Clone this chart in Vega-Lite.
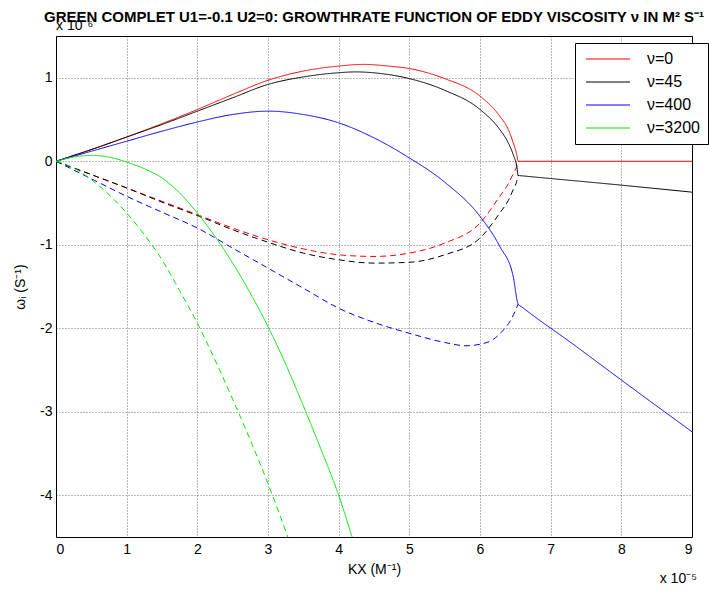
{
  "$schema": "https://vega.github.io/schema/vega-lite/v6.json",
  "width": 636,
  "height": 501,
  "autosize": {"type": "none"},
  "padding": {"left": 56, "top": 36, "right": 17, "bottom": 52},
  "background": "white",
  "title": {
    "text": "GREEN COMPLET U1=-0.1 U2=0: GROWTHRATE FUNCTION OF EDDY VISCOSITY ν IN M² S⁻¹",
    "font": "Liberation Sans",
    "fontSize": 15,
    "fontWeight": "bold",
    "color": "black",
    "anchor": "middle",
    "baseline": "alphabetic",
    "offset": -18
  },
  "config": {
    "view": {"stroke": "black", "strokeWidth": 1},
    "axis": {
      "domain": false,
      "ticks": false,
      "grid": true,
      "gridColor": "#000000",
      "gridOpacity": 0.55,
      "gridDash": [1, 2],
      "gridWidth": 1,
      "labelFont": "Liberation Sans",
      "labelFontSize": 14,
      "labelColor": "black",
      "labelExpr": "'' + datum.value",
      "titleFont": "Liberation Sans",
      "titleFontSize": 14,
      "titleFontWeight": "normal",
      "titleColor": "black"
    },
    "legend": {
      "orient": "none",
      "legendX": 519,
      "legendY": 7,
      "strokeColor": "black",
      "fillColor": "white",
      "padding": 8,
      "labelFont": "Liberation Sans",
      "labelFontSize": 16,
      "labelColor": "black",
      "symbolType": "M-4,0H4",
      "symbolSize": 121,
      "symbolStrokeWidth": 1,
      "symbolOffset": 17,
      "labelOffset": 31,
      "rowPadding": 7
    }
  },
  "layer": [
    {
      "data": {
        "values": [
          {"nu": "ν=0", "branch": "solid", "kx": 0, "w": 0},
          {"nu": "ν=0", "branch": "solid", "kx": 0.25, "w": 0.07},
          {"nu": "ν=0", "branch": "solid", "kx": 0.5, "w": 0.14},
          {"nu": "ν=0", "branch": "solid", "kx": 1, "w": 0.29},
          {"nu": "ν=0", "branch": "solid", "kx": 1.5, "w": 0.45},
          {"nu": "ν=0", "branch": "solid", "kx": 2, "w": 0.62},
          {"nu": "ν=0", "branch": "solid", "kx": 2.5, "w": 0.8},
          {"nu": "ν=0", "branch": "solid", "kx": 3, "w": 0.97},
          {"nu": "ν=0", "branch": "solid", "kx": 3.5, "w": 1.08},
          {"nu": "ν=0", "branch": "solid", "kx": 4, "w": 1.14},
          {"nu": "ν=0", "branch": "solid", "kx": 4.35, "w": 1.16},
          {"nu": "ν=0", "branch": "solid", "kx": 4.7, "w": 1.14},
          {"nu": "ν=0", "branch": "solid", "kx": 5, "w": 1.11},
          {"nu": "ν=0", "branch": "solid", "kx": 5.5, "w": 0.99},
          {"nu": "ν=0", "branch": "solid", "kx": 6, "w": 0.78},
          {"nu": "ν=0", "branch": "solid", "kx": 6.28, "w": 0.54},
          {"nu": "ν=0", "branch": "solid", "kx": 6.4, "w": 0.38},
          {"nu": "ν=0", "branch": "solid", "kx": 6.47, "w": 0.22},
          {"nu": "ν=0", "branch": "solid", "kx": 6.52, "w": 0.08},
          {"nu": "ν=0", "branch": "solid", "kx": 6.54, "w": 0},
          {"nu": "ν=0", "branch": "solid", "kx": 9, "w": 0},
          {"nu": "ν=0", "branch": "dashed", "kx": 0, "w": 0},
          {"nu": "ν=0", "branch": "dashed", "kx": 0.5, "w": -0.16},
          {"nu": "ν=0", "branch": "dashed", "kx": 1, "w": -0.32},
          {"nu": "ν=0", "branch": "dashed", "kx": 1.5, "w": -0.48},
          {"nu": "ν=0", "branch": "dashed", "kx": 2, "w": -0.64},
          {"nu": "ν=0", "branch": "dashed", "kx": 2.5, "w": -0.8},
          {"nu": "ν=0", "branch": "dashed", "kx": 3, "w": -0.94},
          {"nu": "ν=0", "branch": "dashed", "kx": 3.5, "w": -1.05},
          {"nu": "ν=0", "branch": "dashed", "kx": 4, "w": -1.12},
          {"nu": "ν=0", "branch": "dashed", "kx": 4.5, "w": -1.14},
          {"nu": "ν=0", "branch": "dashed", "kx": 5, "w": -1.1},
          {"nu": "ν=0", "branch": "dashed", "kx": 5.5, "w": -0.98},
          {"nu": "ν=0", "branch": "dashed", "kx": 6, "w": -0.74},
          {"nu": "ν=0", "branch": "dashed", "kx": 6.28, "w": -0.42},
          {"nu": "ν=0", "branch": "dashed", "kx": 6.4, "w": -0.27},
          {"nu": "ν=0", "branch": "dashed", "kx": 6.47, "w": -0.15},
          {"nu": "ν=0", "branch": "dashed", "kx": 6.52, "w": -0.06},
          {"nu": "ν=0", "branch": "dashed", "kx": 6.54, "w": 0},
          {"nu": "ν=45", "branch": "solid", "kx": 0, "w": 0},
          {"nu": "ν=45", "branch": "solid", "kx": 0.5, "w": 0.14},
          {"nu": "ν=45", "branch": "solid", "kx": 1, "w": 0.29},
          {"nu": "ν=45", "branch": "solid", "kx": 1.5, "w": 0.44},
          {"nu": "ν=45", "branch": "solid", "kx": 2, "w": 0.6},
          {"nu": "ν=45", "branch": "solid", "kx": 2.5, "w": 0.76},
          {"nu": "ν=45", "branch": "solid", "kx": 3, "w": 0.92},
          {"nu": "ν=45", "branch": "solid", "kx": 3.5, "w": 1.01},
          {"nu": "ν=45", "branch": "solid", "kx": 4, "w": 1.06},
          {"nu": "ν=45", "branch": "solid", "kx": 4.24, "w": 1.07},
          {"nu": "ν=45", "branch": "solid", "kx": 4.6, "w": 1.05},
          {"nu": "ν=45", "branch": "solid", "kx": 5, "w": 0.99},
          {"nu": "ν=45", "branch": "solid", "kx": 5.5, "w": 0.85},
          {"nu": "ν=45", "branch": "solid", "kx": 6, "w": 0.62},
          {"nu": "ν=45", "branch": "solid", "kx": 6.28, "w": 0.38},
          {"nu": "ν=45", "branch": "solid", "kx": 6.4, "w": 0.22},
          {"nu": "ν=45", "branch": "solid", "kx": 6.47, "w": 0.08},
          {"nu": "ν=45", "branch": "solid", "kx": 6.52, "w": -0.06},
          {"nu": "ν=45", "branch": "solid", "kx": 6.54, "w": -0.17},
          {"nu": "ν=45", "branch": "solid", "kx": 6.6, "w": -0.175},
          {"nu": "ν=45", "branch": "solid", "kx": 7.8, "w": -0.27},
          {"nu": "ν=45", "branch": "solid", "kx": 9, "w": -0.37},
          {"nu": "ν=45", "branch": "dashed", "kx": 0, "w": 0},
          {"nu": "ν=45", "branch": "dashed", "kx": 0.5, "w": -0.16},
          {"nu": "ν=45", "branch": "dashed", "kx": 1, "w": -0.32},
          {"nu": "ν=45", "branch": "dashed", "kx": 1.5, "w": -0.49},
          {"nu": "ν=45", "branch": "dashed", "kx": 2, "w": -0.65},
          {"nu": "ν=45", "branch": "dashed", "kx": 2.5, "w": -0.82},
          {"nu": "ν=45", "branch": "dashed", "kx": 3, "w": -0.97},
          {"nu": "ν=45", "branch": "dashed", "kx": 3.5, "w": -1.1},
          {"nu": "ν=45", "branch": "dashed", "kx": 4, "w": -1.18},
          {"nu": "ν=45", "branch": "dashed", "kx": 4.5, "w": -1.22},
          {"nu": "ν=45", "branch": "dashed", "kx": 5, "w": -1.21},
          {"nu": "ν=45", "branch": "dashed", "kx": 5.5, "w": -1.12},
          {"nu": "ν=45", "branch": "dashed", "kx": 6, "w": -0.92},
          {"nu": "ν=45", "branch": "dashed", "kx": 6.28, "w": -0.62},
          {"nu": "ν=45", "branch": "dashed", "kx": 6.4, "w": -0.47},
          {"nu": "ν=45", "branch": "dashed", "kx": 6.47, "w": -0.34},
          {"nu": "ν=45", "branch": "dashed", "kx": 6.52, "w": -0.24},
          {"nu": "ν=45", "branch": "dashed", "kx": 6.54, "w": -0.17},
          {"nu": "ν=400", "branch": "solid", "kx": 0, "w": 0},
          {"nu": "ν=400", "branch": "solid", "kx": 0.5, "w": 0.12},
          {"nu": "ν=400", "branch": "solid", "kx": 1, "w": 0.24},
          {"nu": "ν=400", "branch": "solid", "kx": 1.5, "w": 0.36},
          {"nu": "ν=400", "branch": "solid", "kx": 2, "w": 0.47},
          {"nu": "ν=400", "branch": "solid", "kx": 2.5, "w": 0.56},
          {"nu": "ν=400", "branch": "solid", "kx": 3, "w": 0.6},
          {"nu": "ν=400", "branch": "solid", "kx": 3.5, "w": 0.56},
          {"nu": "ν=400", "branch": "solid", "kx": 4, "w": 0.46},
          {"nu": "ν=400", "branch": "solid", "kx": 4.5, "w": 0.28},
          {"nu": "ν=400", "branch": "solid", "kx": 5, "w": 0.04},
          {"nu": "ν=400", "branch": "solid", "kx": 5.5, "w": -0.25},
          {"nu": "ν=400", "branch": "solid", "kx": 6, "w": -0.66},
          {"nu": "ν=400", "branch": "solid", "kx": 6.28, "w": -1.02},
          {"nu": "ν=400", "branch": "solid", "kx": 6.47, "w": -1.38},
          {"nu": "ν=400", "branch": "solid", "kx": 6.54, "w": -1.71},
          {"nu": "ν=400", "branch": "solid", "kx": 6.6, "w": -1.75},
          {"nu": "ν=400", "branch": "solid", "kx": 7.3, "w": -2.18},
          {"nu": "ν=400", "branch": "solid", "kx": 8, "w": -2.62},
          {"nu": "ν=400", "branch": "solid", "kx": 9, "w": -3.24},
          {"nu": "ν=400", "branch": "dashed", "kx": 0, "w": 0},
          {"nu": "ν=400", "branch": "dashed", "kx": 0.5, "w": -0.21},
          {"nu": "ν=400", "branch": "dashed", "kx": 1, "w": -0.42},
          {"nu": "ν=400", "branch": "dashed", "kx": 1.5, "w": -0.61},
          {"nu": "ν=400", "branch": "dashed", "kx": 2, "w": -0.8},
          {"nu": "ν=400", "branch": "dashed", "kx": 2.5, "w": -1.04},
          {"nu": "ν=400", "branch": "dashed", "kx": 3, "w": -1.28},
          {"nu": "ν=400", "branch": "dashed", "kx": 3.5, "w": -1.52},
          {"nu": "ν=400", "branch": "dashed", "kx": 4, "w": -1.76},
          {"nu": "ν=400", "branch": "dashed", "kx": 4.5, "w": -1.93},
          {"nu": "ν=400", "branch": "dashed", "kx": 5, "w": -2.06},
          {"nu": "ν=400", "branch": "dashed", "kx": 5.5, "w": -2.17},
          {"nu": "ν=400", "branch": "dashed", "kx": 5.8, "w": -2.21},
          {"nu": "ν=400", "branch": "dashed", "kx": 6.1, "w": -2.17},
          {"nu": "ν=400", "branch": "dashed", "kx": 6.3, "w": -2.05},
          {"nu": "ν=400", "branch": "dashed", "kx": 6.45, "w": -1.88},
          {"nu": "ν=400", "branch": "dashed", "kx": 6.54, "w": -1.71},
          {"nu": "ν=3200", "branch": "solid", "kx": 0, "w": 0},
          {"nu": "ν=3200", "branch": "solid", "kx": 0.25, "w": 0.05},
          {"nu": "ν=3200", "branch": "solid", "kx": 0.5, "w": 0.07},
          {"nu": "ν=3200", "branch": "solid", "kx": 0.75, "w": 0.05},
          {"nu": "ν=3200", "branch": "solid", "kx": 1, "w": -0.01},
          {"nu": "ν=3200", "branch": "solid", "kx": 1.25, "w": -0.09},
          {"nu": "ν=3200", "branch": "solid", "kx": 1.5, "w": -0.2},
          {"nu": "ν=3200", "branch": "solid", "kx": 1.75, "w": -0.38},
          {"nu": "ν=3200", "branch": "solid", "kx": 2, "w": -0.62},
          {"nu": "ν=3200", "branch": "solid", "kx": 2.25, "w": -0.9},
          {"nu": "ν=3200", "branch": "solid", "kx": 2.5, "w": -1.22},
          {"nu": "ν=3200", "branch": "solid", "kx": 2.75, "w": -1.58},
          {"nu": "ν=3200", "branch": "solid", "kx": 3, "w": -1.98},
          {"nu": "ν=3200", "branch": "solid", "kx": 3.25, "w": -2.43},
          {"nu": "ν=3200", "branch": "solid", "kx": 3.5, "w": -2.93},
          {"nu": "ν=3200", "branch": "solid", "kx": 3.75, "w": -3.45},
          {"nu": "ν=3200", "branch": "solid", "kx": 4, "w": -4.0},
          {"nu": "ν=3200", "branch": "solid", "kx": 4.19, "w": -4.5},
          {"nu": "ν=3200", "branch": "dashed", "kx": 0, "w": 0},
          {"nu": "ν=3200", "branch": "dashed", "kx": 0.25, "w": -0.08},
          {"nu": "ν=3200", "branch": "dashed", "kx": 0.5, "w": -0.22},
          {"nu": "ν=3200", "branch": "dashed", "kx": 0.75, "w": -0.4},
          {"nu": "ν=3200", "branch": "dashed", "kx": 1, "w": -0.62},
          {"nu": "ν=3200", "branch": "dashed", "kx": 1.25, "w": -0.88},
          {"nu": "ν=3200", "branch": "dashed", "kx": 1.5, "w": -1.18},
          {"nu": "ν=3200", "branch": "dashed", "kx": 1.75, "w": -1.55},
          {"nu": "ν=3200", "branch": "dashed", "kx": 2, "w": -1.94},
          {"nu": "ν=3200", "branch": "dashed", "kx": 2.25, "w": -2.38},
          {"nu": "ν=3200", "branch": "dashed", "kx": 2.5, "w": -2.85},
          {"nu": "ν=3200", "branch": "dashed", "kx": 2.75, "w": -3.34},
          {"nu": "ν=3200", "branch": "dashed", "kx": 3, "w": -3.86},
          {"nu": "ν=3200", "branch": "dashed", "kx": 3.28, "w": -4.5}
        ]
      },
      "mark": {"type": "line", "strokeWidth": 1, "clip": true, "interpolate": "monotone"},
      "encoding": {
        "x": {
          "field": "kx",
          "type": "quantitative",
          "scale": {"domain": [0, 9], "nice": false},
          "axis": {"values": [0, 1, 2, 3, 4, 5, 6, 7, 8, 9], "title": "KX  (M⁻¹)", "labelPadding": 5, "titlePadding": 6}
        },
        "y": {
          "field": "w",
          "type": "quantitative",
          "scale": {"domain": [-4.5, 1.5], "nice": false},
          "axis": {"values": [-4, -3, -2, -1, 0, 1], "title": "ωᵢ  (S⁻¹)", "labelPadding": 4, "titlePadding": 12}
        },
        "color": {
          "field": "nu",
          "type": "nominal",
          "scale": {"domain": ["ν=0", "ν=45", "ν=400", "ν=3200"], "range": ["#ff0000", "#000000", "#0000ff", "#00e600"]},
          "legend": {"title": null}
        },
        "strokeDash": {
          "field": "branch",
          "type": "nominal",
          "scale": {"domain": ["solid", "dashed"], "range": [[1, 0], [6, 4]]},
          "legend": null
        }
      }
    },
    {
      "data": {"values": [{"kx": 0, "w": 1.5, "label": "x 10⁻⁶"}]},
      "mark": {"type": "text", "align": "left", "baseline": "alphabetic", "dy": -6, "font": "Liberation Sans", "fontSize": 14, "color": "black"},
      "encoding": {
        "x": {"field": "kx", "type": "quantitative"},
        "y": {"field": "w", "type": "quantitative"},
        "text": {"field": "label"}
      }
    },
    {
      "data": {"values": [{"kx": 9, "w": -4.5, "label": "x 10⁻⁵"}]},
      "mark": {"type": "text", "align": "right", "baseline": "alphabetic", "dy": 46, "dx": 5, "font": "Liberation Sans", "fontSize": 14, "color": "black"},
      "encoding": {
        "x": {"field": "kx", "type": "quantitative"},
        "y": {"field": "w", "type": "quantitative"},
        "text": {"field": "label"}
      }
    }
  ]
}
